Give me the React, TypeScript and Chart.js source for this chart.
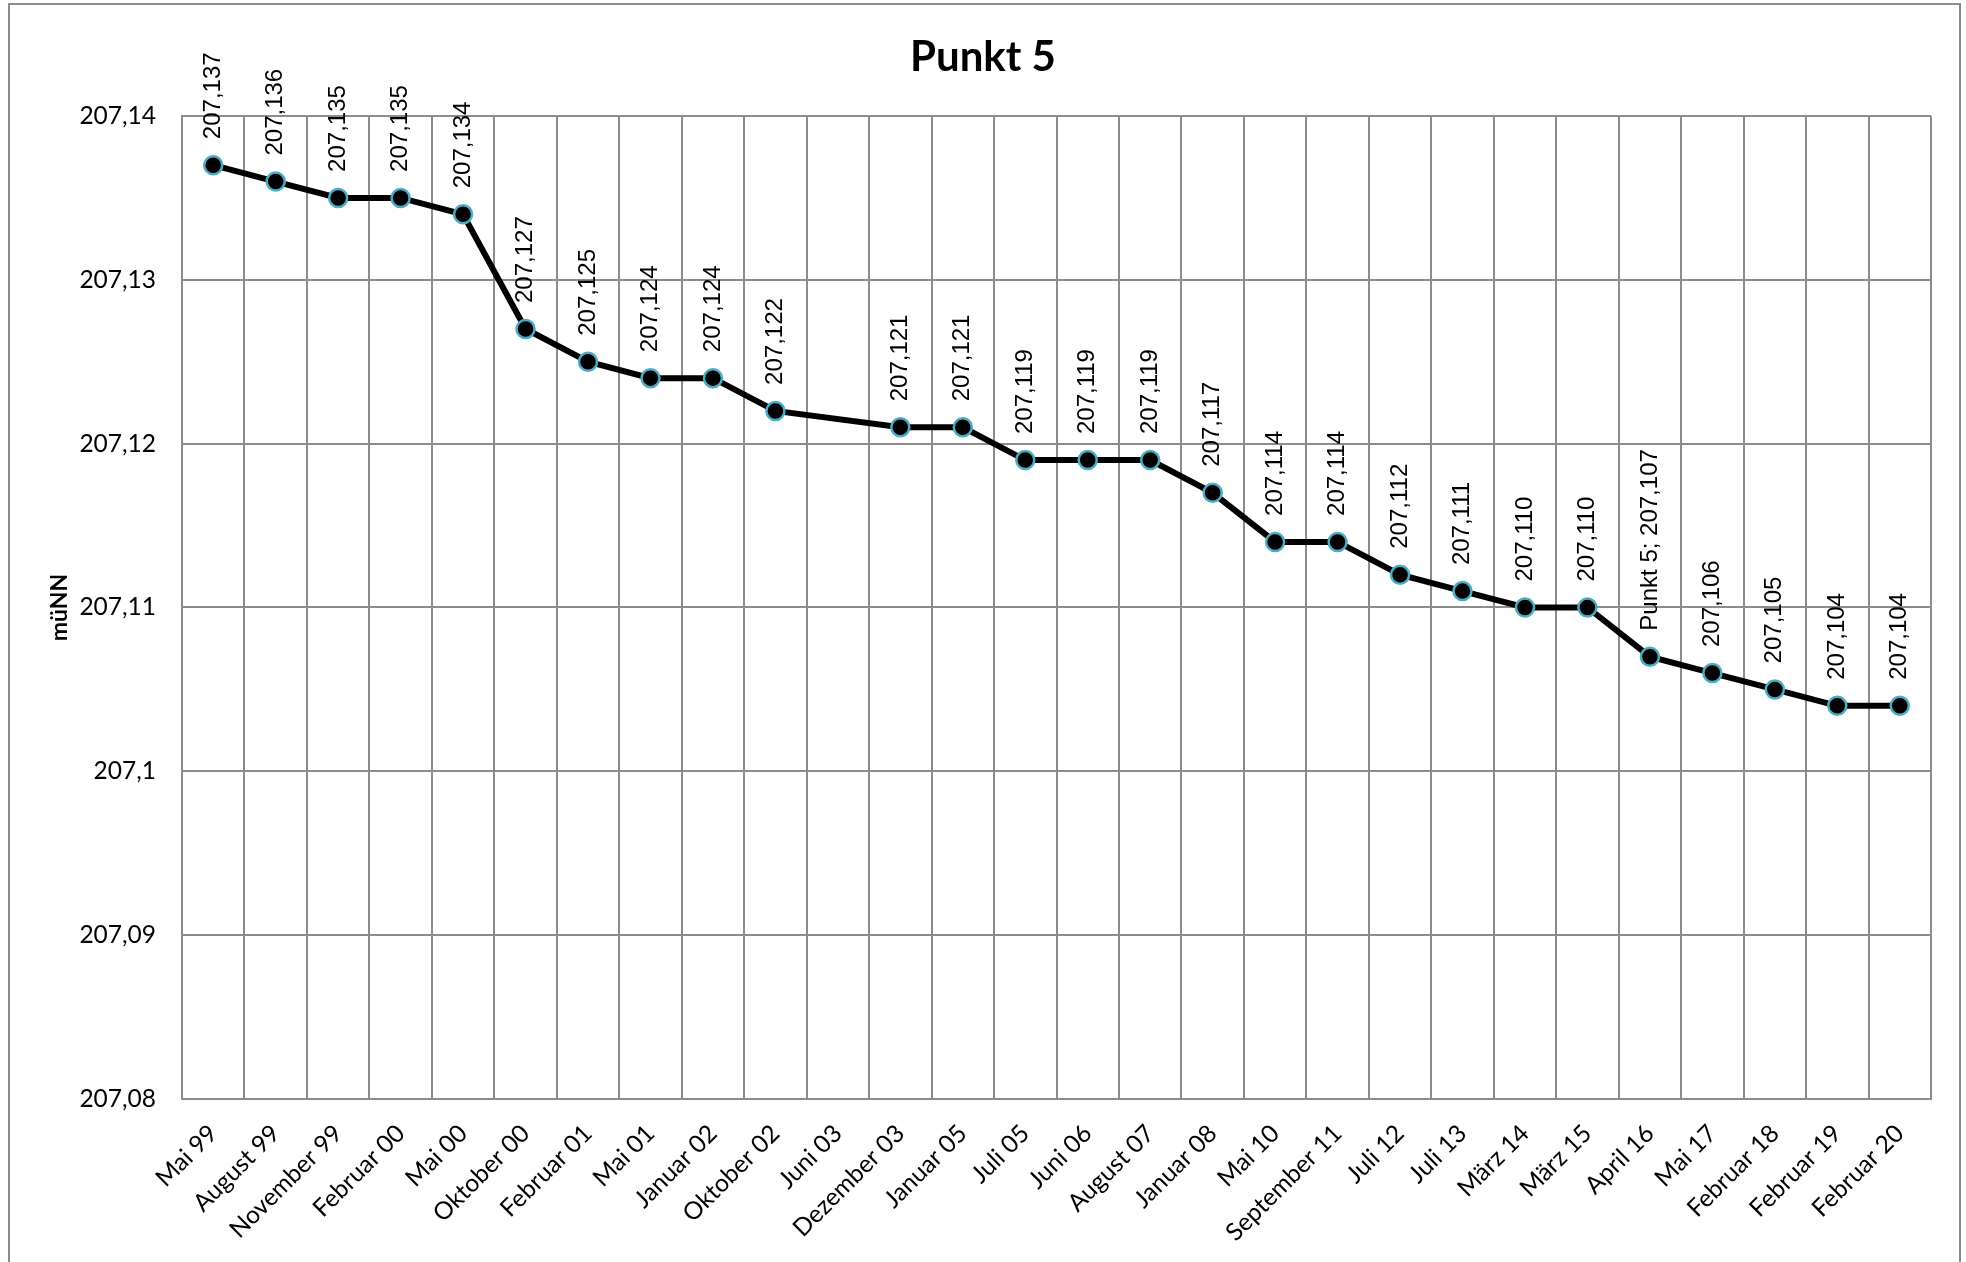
import React, { useEffect, useRef } from "react";
import { Chart, registerables } from "chart.js";

Chart.register(...registerables);

// Survey dates of the levelling point
const categories = [
  "Mai 99", "August 99", "November 99", "Februar 00", "Mai 00", "Oktober 00",
  "Februar 01", "Mai 01", "Januar 02", "Oktober 02", "Juni 03", "Dezember 03",
  "Januar 05", "Juli 05", "Juni 06", "August 07", "Januar 08", "Mai 10",
  "September 11", "Juli 12", "Juli 13", "März 14", "März 15", "April 16",
  "Mai 17", "Februar 18", "Februar 19", "Februar 20",
];

// Measured heights in m ü. NN (no measurement in Juni 03)
const heights: (number | null)[] = [
  207.137, 207.136, 207.135, 207.135, 207.134, 207.127,
  207.125, 207.124, 207.124, 207.122, null, 207.121,
  207.121, 207.119, 207.119, 207.119, 207.117, 207.114,
  207.114, 207.112, 207.111, 207.110, 207.110, 207.107,
  207.106, 207.105, 207.104, 207.104,
];

const seriesName = "Punkt 5";
const seriesNameShownAt = "April 16";
const axisTitle = "müNN";

const yMin = 207.08;
const yMax = 207.14;
const yStep = 0.01;

const gridColor = "#8c8c8c";
const tickFont = { family: "Lato", size: 24.5 };

const fmtValue = (v: number) => v.toFixed(3).replace(".", ",");
const fmtTick = (v: number) => String(Number(v.toFixed(2))).replace(".", ",");

// Rotated value labels above each point
const pointLabels = {
  id: "pointLabels",
  afterDatasetsDraw(chart: any) {
    const meta = chart.getDatasetMeta(0);
    const ctx = chart.ctx as CanvasRenderingContext2D;
    ctx.save();
    ctx.font = '24px "Liberation Sans"';
    ctx.fillStyle = "#000";
    ctx.textAlign = "left";
    ctx.textBaseline = "middle";
    meta.data.forEach((el: any, i: number) => {
      const v = heights[i];
      if (v == null) return;
      let text = fmtValue(v);
      if (categories[i] === seriesNameShownAt) text = `${seriesName}; ${text}`;
      ctx.save();
      ctx.translate(el.x, el.y - 26);
      ctx.rotate(-Math.PI / 2);
      ctx.fillText(text, 0, 0);
      ctx.restore();
    });
    ctx.restore();
  },
};

// Frame around the whole chart
const chartFrame = {
  id: "chartFrame",
  beforeDraw(chart: any) {
    const ctx = chart.ctx as CanvasRenderingContext2D;
    ctx.save();
    ctx.strokeStyle = gridColor;
    ctx.lineWidth = 2;
    ctx.strokeRect(9, 4, 1951, 1300);
    ctx.restore();
  },
};

export default function App() {
  const canvasRef = useRef<HTMLCanvasElement | null>(null);

  useEffect(() => {
    if (!canvasRef.current) return;
    const chart = new Chart(canvasRef.current, {
      type: "line",
      data: {
        labels: categories,
        datasets: [
          {
            label: seriesName,
            data: heights,
            borderColor: "#000",
            borderWidth: 6,
            backgroundColor: "#000",
            pointBackgroundColor: "#000",
            pointBorderColor: "#4BACC6",
            pointBorderWidth: 2.5,
            pointRadius: 9,
            spanGaps: true,
            tension: 0,
          },
        ],
      },
      options: {
        responsive: false,
        animation: false,
        devicePixelRatio: 1,
        layout: { padding: 0 },
        plugins: {
          legend: { display: false },
          tooltip: { enabled: false },
          title: {
            display: true,
            text: seriesName,
            color: "#000",
            font: { family: "Lato", size: 42, weight: "bold", lineHeight: 1.2 },
            padding: { top: 32, bottom: 33.6 },
          },
        },
        scales: {
          x: {
            type: "category",
            offset: true,
            grid: { offset: true, color: gridColor, lineWidth: 2, drawTicks: false },
            border: { color: gridColor, width: 2 },
            ticks: {
              autoSkip: false,
              minRotation: 45,
              maxRotation: 45,
              color: "#000",
              font: tickFont,
              padding: 20,
            },
            afterFit: (s: any) => {
              s.height = 163;
            },
          },
          y: {
            min: yMin,
            max: yMax,
            grid: { color: gridColor, lineWidth: 2, drawTicks: false },
            border: { color: gridColor, width: 2 },
            ticks: {
              stepSize: yStep,
              color: "#000",
              font: tickFont,
              padding: 26,
              callback: (v: any) => fmtTick(Number(v)),
            },
            title: {
              display: true,
              text: axisTitle,
              color: "#000",
              font: { family: "Lato", size: 23, weight: "bold", lineHeight: 1.2 },
              padding: { top: 46, bottom: 0 },
            },
            afterFit: (s: any) => {
              s.width = 182;
            },
          },
          // empty margin strip on the right of the plot area
          yMargin: {
            position: "right",
            display: true,
            grid: { display: false, drawTicks: false },
            border: { display: false },
            ticks: { display: false },
            afterFit: (s: any) => {
              s.width = 35;
            },
          },
        },
      },
      plugins: [chartFrame, pointLabels],
    });
    return () => chart.destroy();
  }, []);

  return (
    <div style={{ position: "fixed", left: 0, top: 0, width: 1966, height: 1262, background: "#fff" }}>
      <canvas ref={canvasRef} width={1966} height={1262} />
    </div>
  );
}
